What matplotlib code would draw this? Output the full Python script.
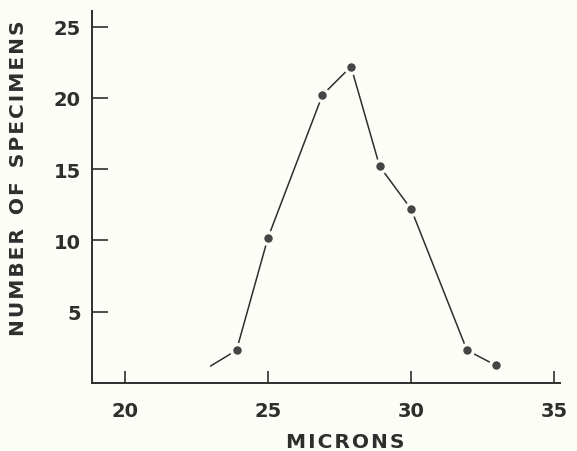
import matplotlib
matplotlib.use('Agg')
import matplotlib.pyplot as plt

# values
microns = [23.9, 25.0, 26.9, 27.9, 28.9, 30.0, 31.95, 32.95]
specimens = [2.3, 10.2, 20.2, 22.2, 15.2, 12.2, 2.3, 1.25]
lead_in_x = [23.0, 23.9]
lead_in_y = [1.2, 2.3]
x_ticks = [20, 25, 30, 35]
x_labels = ['20', '25', '30', '35']
y_ticks = [5, 10, 15, 20, 25]
y_labels = ['5', '10', '15', '20', '25']

ink = '#2e2e2e'
paper = '#fdfdf8'
hair = '\u200a'


def spaced(s):
    # the original lettering is an extended face, so open up the letters a little
    return '  '.join(hair.join(w) for w in s.split(' '))


plt.rcParams['font.family'] = ['DejaVu Sans']
fig = plt.figure(figsize=(5.77, 4.52), dpi=100, facecolor=paper)
ax = fig.add_axes([0.1594, 0.1504, 0.8111, 0.8231], facecolor=paper)

ax.plot(lead_in_x, lead_in_y, color=ink, lw=1.1)
ax.plot(microns, specimens, color=ink, lw=1.1, marker='o', ms=8.5,
        markerfacecolor='#454545', markeredgecolor=paper, markeredgewidth=2.4)

ax.set_xlim(18.85, 35.2)
ax.set_ylim(0, 26.1)
ax.set_xticks(x_ticks, x_labels)
ax.set_yticks(y_ticks, y_labels)
ax.tick_params(axis='y', direction='in', length=11.5, width=1.2, color=ink,
               labelsize=14, labelcolor=ink, pad=8)
ax.tick_params(axis='x', direction='in', length=8.6, width=1.2, color=ink,
               labelsize=14, labelcolor=ink, pad=13)
for lab in ax.get_xticklabels() + ax.get_yticklabels():
    lab.set_fontweight('bold')

for side in ['top', 'right']:
    ax.spines[side].set_visible(False)
for side in ['left', 'bottom']:
    ax.spines[side].set_color(ink)
    ax.spines[side].set_linewidth(1.4)

fig.text(345 / 577, 1 - 443 / 452, spaced('MICRONS'), fontsize=14.5,
         fontweight='bold', color=ink, ha='center', va='center')
fig.text(18.5 / 577, 1 - 178 / 452, spaced('NUMBER OF SPECIMENS'), fontsize=14.5,
         fontweight='bold', color=ink, ha='center', va='center', rotation=90)

fig.savefig('out.png', dpi=100, facecolor=paper)
